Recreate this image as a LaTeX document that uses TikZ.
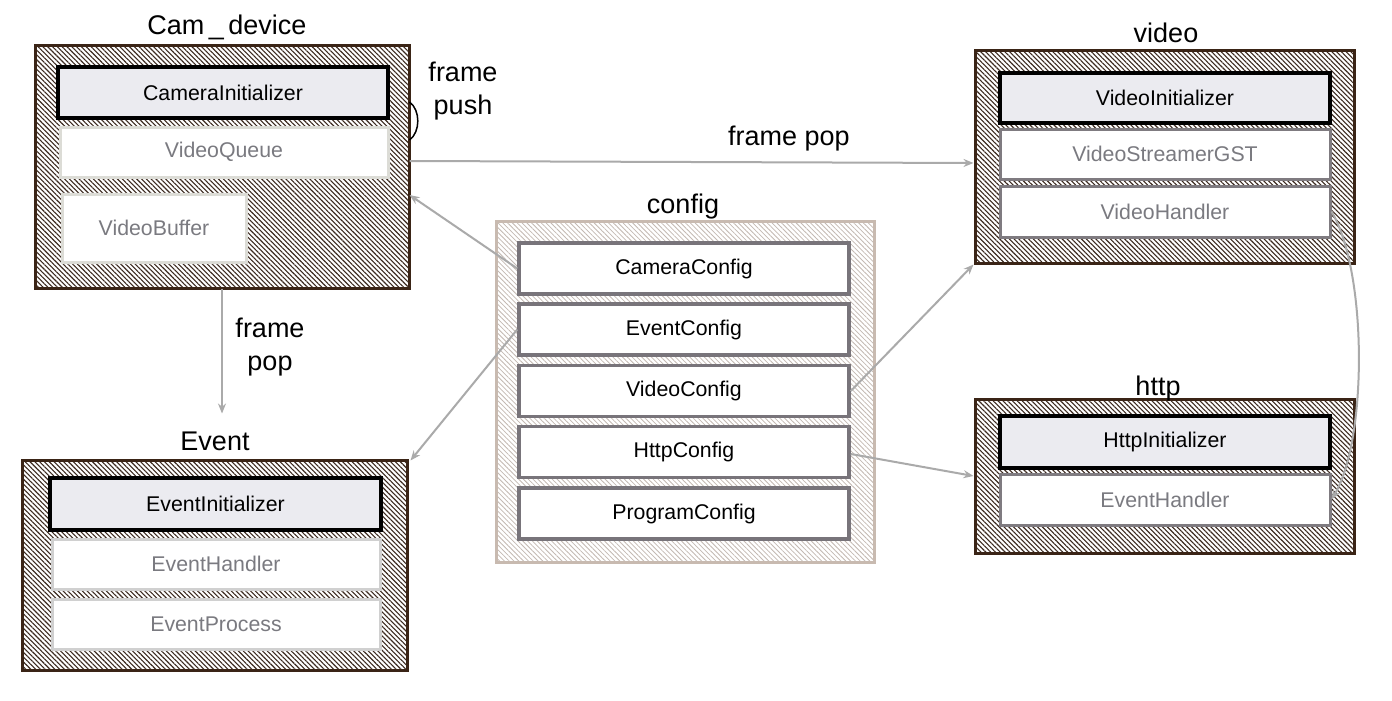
\documentclass[tikz,border=0pt]{standalone}
\usepackage{fontspec}
\setmainfont{Liberation Sans}
\usetikzlibrary{patterns.meta,arrows.meta}
\definecolor{darkbrown}{RGB}{58,36,22}
\definecolor{hatchc}{RGB}{60,42,32}
\definecolor{initfill}{RGB}{235,235,240}
\definecolor{lightb}{RGB}{220,220,214}
\definecolor{lightc}{RGB}{208,208,208}
\definecolor{midb}{RGB}{127,123,128}
\definecolor{cfgb}{RGB}{120,116,122}
\definecolor{cfgouter}{RGB}{200,186,176}
\definecolor{cfghatch}{RGB}{195,185,178}
\definecolor{subtext}{RGB}{122,122,128}
\definecolor{arrowgray}{RGB}{170,170,170}
\newcommand\titlefont{\fontsize{27}{33}\selectfont}
\newcommand\boxfont{\fontsize{21.3}{25}\selectfont}
\tikzset{
  outerbox/.style={draw=darkbrown, line width=3pt, inner sep=0pt,
    pattern={Lines[angle=-45,distance=3.4pt,line width=1.1pt]}, pattern color=hatchc},
  cfgouterbox/.style={draw=cfgouter, line width=3pt, inner sep=0pt,
    pattern={Lines[angle=-45,distance=3.4pt,line width=0.8pt]}, pattern color=cfghatch},
  initbox/.style={draw=black, line width=3.5pt, fill=initfill, text=black, font=\boxfont,
    inner sep=0pt, minimum width=330pt, minimum height=51pt},
  subbox/.style={draw=lightb, line width=3pt, fill=white, text=subtext, font=\boxfont,
    inner sep=0pt, minimum width=328pt, minimum height=50pt},
  subboxb/.style={draw=midb, line width=3pt, fill=white, text=subtext, font=\boxfont,
    inner sep=0pt, minimum width=330pt, minimum height=50pt},
  cfgbox/.style={draw=cfgb, line width=3.5pt, fill=white, text=black, font=\boxfont,
    inner sep=0pt, minimum width=330pt, minimum height=51pt},
  titlelabel/.style={font=\titlefont, text=black, anchor=base, inner sep=0pt},
  flowlabel/.style={font=\titlefont, text=black, align=center, inner sep=0pt},
  conn/.style={draw=arrowgray, line width=2pt, -{Stealth[length=10pt,width=8pt]}},
}
\begin{document}
\begin{tikzpicture}[x=1pt,y=-1pt]
\useasboundingbox (0,0) rectangle (1392,701);
\fill[white] (0,0) rectangle (1392,701);

% Cam_device
\node[outerbox, minimum width=374pt, minimum height=242pt] (camdev) at (222,167) {};
\node[titlelabel] (camdevt) at (227,35) {Cam\,\_\,device};
\node[initbox] (camInit) at (223,92.5) {CameraInitializer};
\node[subbox] (vq) at (224,152) {VideoQueue};
\node[subbox, minimum width=184pt, minimum height=68pt] (vb) at (154,228) {VideoBuffer};

% Event
\node[outerbox, minimum width=385pt, minimum height=210pt] (event) at (214.5,565) {};
\node[titlelabel] (eventt) at (215,450) {Event};
\node[initbox, minimum width=331pt, minimum height=52pt] (evInit) at (215.5,504) {EventInitializer};
\node[subbox, draw=lightc] (evH) at (216,564) {EventHandler};
\node[subbox, draw=lightc] (evP) at (216,624) {EventProcess};

% config
\node[cfgouterbox, minimum width=378pt, minimum height=341pt] (config) at (685,391.5) {};
\node[titlelabel] (configt) at (683,213) {config};
\node[cfgbox] (cc) at (684,268.5) {CameraConfig};
\node[cfgbox] (ec) at (684,329.5) {EventConfig};
\node[cfgbox] (vc) at (684,391) {VideoConfig};
\node[cfgbox] (hc) at (684,452) {HttpConfig};
\node[cfgbox] (pc) at (684,513.5) {ProgramConfig};

% video
\node[outerbox, minimum width=379pt, minimum height=212pt] (video) at (1164.5,157) {};
\node[titlelabel] (videot) at (1166,43) {video};
\node[initbox, minimum height=50pt] (vInit) at (1165,98) {VideoInitializer};
\node[subboxb] (vs) at (1165,154) {VideoStreamerGST};
\node[subboxb, minimum height=51pt] (vh) at (1165,211.5) {VideoHandler};

% http
\node[outerbox, minimum width=379pt, minimum height=154pt] (http) at (1164.5,476) {};
\node[titlelabel] (httpt) at (1158,395) {http};
\node[initbox, minimum height=52pt] (hInit) at (1165,442) {HttpInitializer};
\node[subboxb, minimum height=51pt] (eh) at (1165,499.5) {EventHandler};

% frame push self loop
\draw[black, line width=1.5pt] ([yshift=65pt]camdev.east) .. controls +(11,8) and +(11,-8) .. ([yshift=27pt]camdev.east);
\node[flowlabel] (pushl) at (463,91) {frame\\push};

% frame pop to video
\draw[conn] ([yshift=6pt]camdev.east) -- ([yshift=-6pt]video.west);
\node[titlelabel] (popl) at (789,145) {frame pop};

% frame pop to event
\draw[conn] (camdev.south) -- ([yshift=45pt]camdev.south |- event.north);
\node[flowlabel] (popl2) at (270,347) {frame\\pop};

% config links
\draw[conn] (cc.west) -- ([yshift=-28pt]camdev.east);
\draw[conn] (ec.west) -- ([xshift=2pt,yshift=-2pt]event.north east);
\draw[conn] (vc.east) -- (video.south west);
\draw[conn] ([yshift=-2pt]hc.east) -- (http.west);

% video handler to event handler
\draw[conn] (vh.east) .. controls +(36,60) and +(36,-60) .. (eh.east);
\end{tikzpicture}
\end{document}
